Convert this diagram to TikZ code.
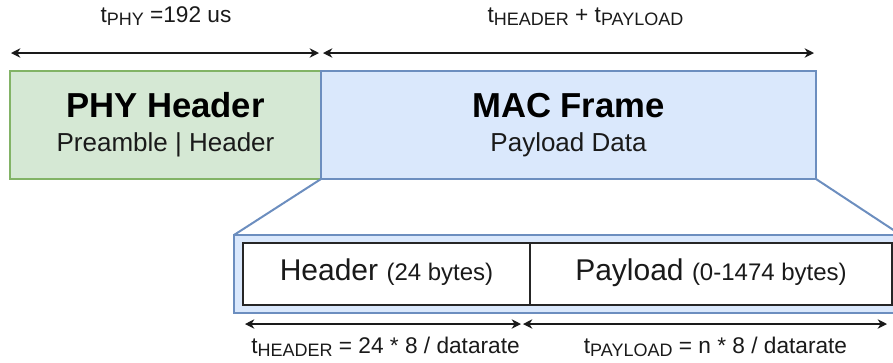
\documentclass[tikz,border=0pt]{standalone}
\usepackage{fontspec}
\setmainfont{Liberation Sans}
\usetikzlibrary{arrows.meta}
\definecolor{phyfill}{HTML}{D5E8D4}
\definecolor{phyline}{HTML}{82B366}
\definecolor{macfill}{HTML}{DAE8FC}
\definecolor{macline}{HTML}{6C8EBF}
\definecolor{ink}{HTML}{1A1A1A}
% time symbol with a lowered, smaller index
\newcommand{\tsub}[1]{t\raisebox{-2.3pt}{\fontsize{13.5}{14}\selectfont #1}}

\begin{document}
\begin{tikzpicture}[x=0.75pt,y=-0.75pt,
  frame/.style={draw, line width=1.1pt, inner sep=0pt, outer sep=0pt},
  title/.style={anchor=base, inner sep=0pt, font=\fontsize{26}{30}\selectfont\bfseries, text=black},
  subtitle/.style={anchor=base, inner sep=0pt, font=\fontsize{19.5}{22}\selectfont, text=ink},
  cell/.style={anchor=base, inner sep=0pt, font=\fontsize{22.5}{26}\selectfont, text=ink},
  timing/.style={anchor=base, inner sep=0pt, font=\fontsize{17}{20}\selectfont, text=ink},
  tip/.style={Stealth[length=7pt,width=7pt,inset=2.2pt]},
  dim/.style={line width=1pt, draw=ink, {Stealth[length=7pt,width=7pt,inset=2.2pt]}-{Stealth[length=7pt,width=7pt,inset=2.2pt]}},
  zoomline/.style={draw=macline, line width=1.5pt}
]
\clip (0,0) rectangle (893,362);

% upper frame: PHY header and MAC frame
\node[frame, draw=phyline, fill=phyfill, minimum width=233.25pt, minimum height=81pt] (phy) at (165.5,125) {};
\node[frame, draw=macline, fill=macfill, minimum width=371.25pt, minimum height=81pt] (mac) at (568.5,125) {};

\node[title] (phyt) at (165.5,117) {PHY Header};
\node[subtitle] (phys) at (165.5,151) {Preamble | Header};
\node[title] (mact) at (568.5,117) {MAC Frame};
\node[subtitle] (macs) at (568.5,151) {Payload Data};

% expanded MAC frame
\node[frame, draw=macline, fill=macfill, minimum width=500.25pt, minimum height=58.5pt] (cont) at (567.5,274) {};
\node[frame, draw=black!85, fill=white, minimum width=215.25pt, minimum height=46.5pt] (hdr) at (386.5,274) {};
\node[frame, draw=black!85, fill=white, minimum width=271.5pt, minimum height=46.5pt] (pay) at (711,274) {};
\node[cell] (hdrt) at (386.5,280) {Header {\fontsize{18}{20}\selectfont(24 bytes)}};
\node[cell] (payt) at (711,280) {Payload {\fontsize{18}{20}\selectfont(0-1474 bytes)}};

\draw[zoomline] (mac.south west) -- (cont.north west);
\draw[zoomline] (mac.south east) -- (cont.north east);

% timing dimensions
\coordinate (t0) at (11,53);
\coordinate (t1) at (319,53);
\coordinate (t2) at (323,53);
\coordinate (t3) at (814,53);
\coordinate (b0) at (245,324);
\coordinate (b1) at (521,324);
\coordinate (b2) at (523,324);
\coordinate (b3) at (887,324);
\draw[dim] (t0) -- (t1);
\draw[dim] (t2) -- (t3);
\draw[dim] (b0) -- (b1);
\draw[dim] (b2) -- (b3);

\node[timing] (tphy) at (166,22) {\tsub{PHY} =192 us};
\node[timing] (tmac) at (585.5,22) {\tsub{HEADER} + \tsub{PAYLOAD}};
\node[timing] (thdr) at (385.5,353) {\tsub{HEADER} = 24 * 8 / datarate};
\node[timing] (tpay) at (715.5,353) {\tsub{PAYLOAD} = n * 8 / datarate};
\end{tikzpicture}
\end{document}
